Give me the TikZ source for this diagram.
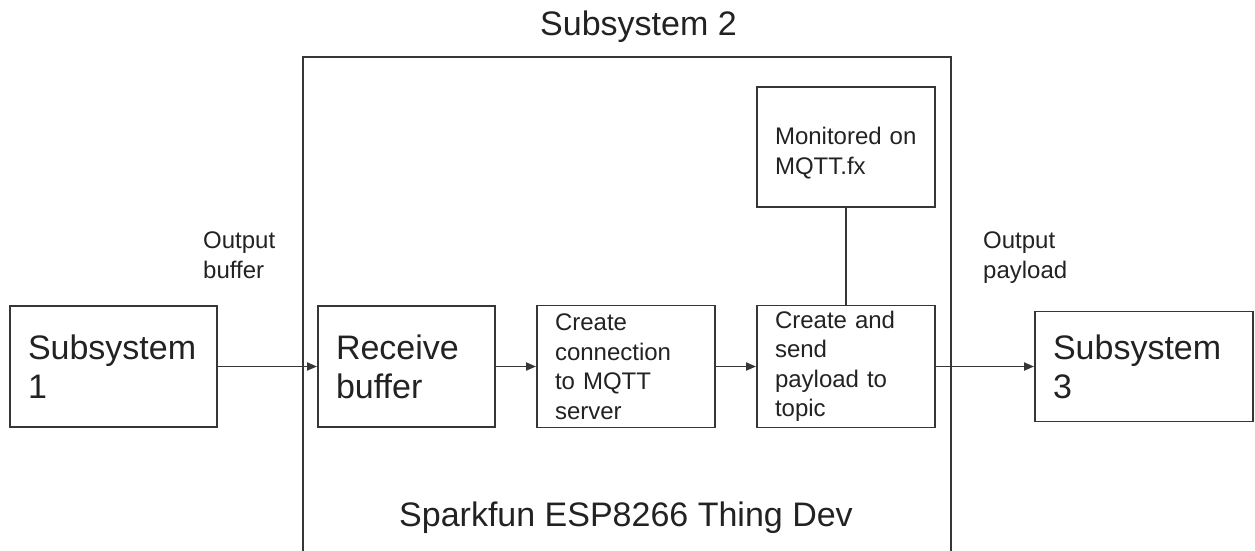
\documentclass[tikz,border=0pt]{standalone}
\usepackage{fontspec}
\setmainfont{Liberation Sans}
\usetikzlibrary{arrows.meta}
\definecolor{linec}{HTML}{363636}
\definecolor{textc}{HTML}{222222}
\begin{document}
\begin{tikzpicture}[x=1pt,y=-1pt,
  box/.style={draw=linec, line width=1.9pt, rectangle, inner xsep=18pt, inner ysep=0pt, align=left, text=textc},
  big/.style={font=\fontsize{34}{39}\selectfont},
  small/.style={font=\fontsize{24}{29.5}\selectfont},
  conn/.style={draw=linec, line width=1.9pt},
  arr/.style={conn, -{Triangle[length=10pt,width=8pt]}},
  lbl/.style={text=textc, inner sep=0pt, align=left},
]
\useasboundingbox (0,0) rectangle (1255,550);
% frame of subsystem 2
\coordinate (fbl) at (303,551);
\coordinate (ftr) at (951,57);
\coordinate (fbr) at (951,551);
\draw[conn] (fbl) |- (ftr) -- (fbr);
\node[lbl,big,anchor=base] (title) at (638.5,35) {Subsystem 2};
\node[lbl,big,anchor=base] (dev) at (626,526) {Sparkfun ESP8266 Thing Dev};

\node[box,big,text width=171pt,minimum height=121pt] (s1) at (113.5,366.5) {Subsystem\\1};
\node[box,big,text width=141pt,minimum height=121pt] (rb) at (406.5,366.5) {Receive\\buffer};
\node[box,small,text width=142pt,minimum height=122pt] (cc) at (626,366.5) {Create\\connection\\to MQTT\\server};
\node[box,small,text width=142pt,minimum height=122pt] (cs) at (846,366.5) {Create and\\send\\payload to\\topic};
\node[box,small,text width=142pt,minimum height=120pt] (mon) at (846,147) {\rule{0pt}{30pt}Monitored on\\MQTT.fx};
\node[box,big,text width=182pt,minimum height=110pt] (s3) at (1144,366.5) {Subsystem\\3};

\node[lbl,small,anchor=north west] (ob) at (203,232) {Output\\buffer};
\node[lbl,small,anchor=north west] (op) at (983,232) {Output\\payload};

\draw[arr] (s1) -- (rb);
\draw[arr] (rb) -- (cc);
\draw[arr] (cc) -- (cs);
\draw[arr] (cs) -- (s3);
\draw[conn] (mon) -- (cs);
\end{tikzpicture}
\end{document}
